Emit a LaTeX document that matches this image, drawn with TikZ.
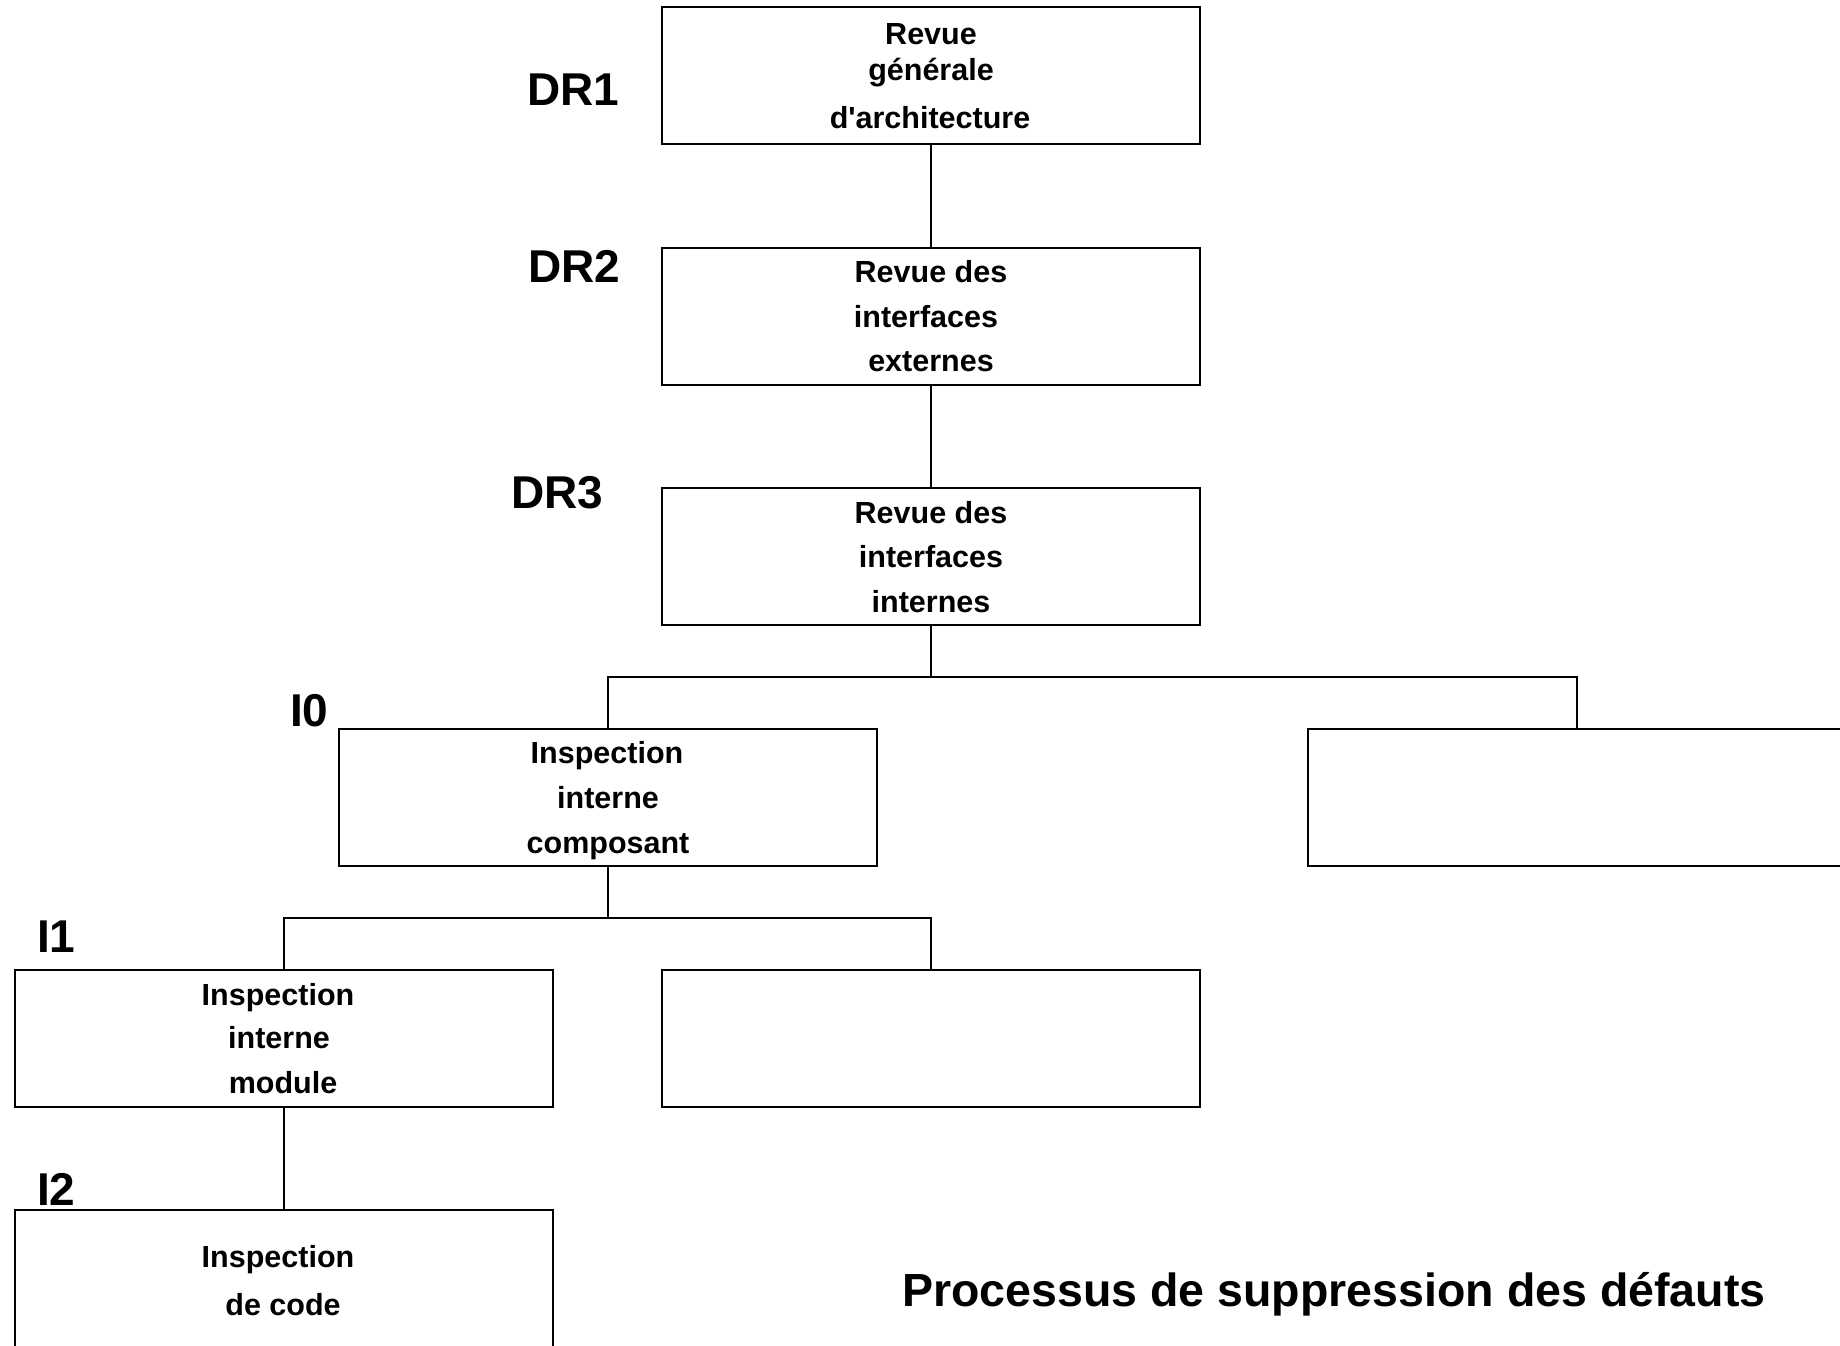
\documentclass[tikz,border=0pt]{standalone}
\usepackage{fontspec}
\setmainfont{Liberation Sans}[Ligatures=TeXOff]
\begin{document}
\begin{tikzpicture}[x=1pt,y=-1pt,
  stagebox/.style={draw=black, line width=2pt, rectangle, inner sep=0pt, outer sep=0pt,
                   minimum width=538pt, minimum height=137pt},
  boxtext/.style={anchor=base, inner sep=0pt, font=\fontsize{30.5}{31}\selectfont\bfseries},
  levellabel/.style={anchor=base west, inner sep=0pt, font=\fontsize{46}{47}\selectfont\bfseries},
  link/.style={draw=black, line width=2pt}]
\useasboundingbox (0,0) rectangle (1840,1345);
\clip (0,0) rectangle (1840,1345);
\fill[white] (0,0) rectangle (1840,1345);

% review and inspection stages
\node[stagebox] (b1) at (930.5,75.5) {};
\node[stagebox] (b2) at (930.5,316.5) {};
\node[stagebox] (b3) at (930.5,556) {};
\node[stagebox] (b4) at (607.5,797.5) {};
\node[stagebox] (b5) at (1577,797.5) {};
\node[stagebox] (b6) at (283.5,1038) {};
\node[stagebox] (b7) at (930.5,1038) {};
\node[stagebox] (b8) at (283.5,1278.5) {};

% junction points of the branches
\coordinate (j1) at (930.5,677);
\coordinate (j2) at (607.5,918);

% connectors
\draw[link] (b1.south) -- (b2.north);
\draw[link] (b2.south) -- (b3.north);
\draw[link] (b3.south) -- (j1);
\draw[link] (b4.north) |- (j1) -| (b5.north);
\draw[link] (b4.south) -- (j2);
\draw[link] (b6.north) |- (j2) -| (b7.north);
\draw[link] (b6.south) -- (b8.north);

% box texts
\node[boxtext] (t11) at (931,44) {Revue};
\node[boxtext] (t12) at (931,80) {générale};
\node[boxtext] (t13) at (930,128) {d'architecture};

\node[boxtext] (t21) at (931,282) {Revue des};
\node[boxtext] (t22) at (926,327) {interfaces};
\node[boxtext] (t23) at (931,371) {externes};

\node[boxtext] (t31) at (931,523) {Revue des};
\node[boxtext] (t32) at (931,567) {interfaces};
\node[boxtext] (t33) at (931,612) {internes};

\node[boxtext] (t41) at (607,763) {Inspection};
\node[boxtext] (t42) at (608,808) {interne};
\node[boxtext] (t43) at (608,853) {composant};

\node[boxtext] (t61) at (278,1005) {Inspection};
\node[boxtext] (t62) at (279,1048) {interne};
\node[boxtext] (t63) at (283,1093) {module};

\node[boxtext] (t81) at (278,1267) {Inspection};
\node[boxtext] (t82) at (283,1315) {de code};

% level labels
\node[levellabel] (l1) at (527,105) {DR1};
\node[levellabel] (l2) at (528,282) {DR2};
\node[levellabel] (l3) at (511,508) {DR3};
\node[levellabel] (l4) at (290,726) {I0};
\node[levellabel] (l5) at (37,952) {I1};
\node[levellabel] (l6) at (37,1205) {I2};

% title
\node[anchor=base, inner sep=0pt, font=\fontsize{46.5}{47}\selectfont\bfseries] (title)
  at (1334,1306) {Processus de suppression des défauts};
\end{tikzpicture}
\end{document}
